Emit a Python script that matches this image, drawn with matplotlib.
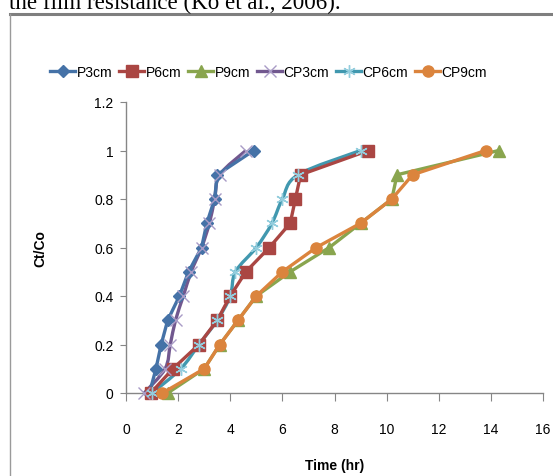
import matplotlib
matplotlib.use('Agg')
import matplotlib.pyplot as plt
import numpy as np
from matplotlib.path import Path
from matplotlib.patches import PathPatch
from matplotlib.lines import Line2D

plt.rcParams['font.family'] = ['Liberation Sans', 'DejaVu Sans']

# Ct/Co levels
levels = [0, 0.1, 0.2, 0.3, 0.4, 0.5, 0.6, 0.7, 0.8, 0.9, 1.0]

p3_t = [0.9, 1.15, 1.35, 1.6, 2.05, 2.4, 2.9, 3.1, 3.4, 3.5, 4.9]
p6_t = [0.95, 1.8, 2.8, 3.5, 4.0, 4.6, 5.5, 6.3, 6.5, 6.7, 9.3]
p9_t = [1.6, 3.0, 3.6, 4.3, 5.0, 6.3, 7.8, 9.0, 10.2, 10.4, 14.3]
cp3_t = [0.7, 1.5, 1.7, 1.9, 2.2, 2.5, 2.9, 3.2, 3.4, 3.6, 4.6]
cp6_t = [1.0, 2.1, 2.8, 3.5, 4.0, 4.2, 5.0, 5.6, 6.0, 6.6, 9.0]
cp9_t = [1.4, 3.0, 3.6, 4.3, 5.0, 6.0, 7.3, 9.0, 10.2, 11.0, 13.8]

series_names = ['P3cm', 'P6cm', 'P9cm', 'CP3cm', 'CP6cm', 'CP9cm']


def smooth_path(x, y):
  # catmull-rom style bezier through the points (like excel "smoothed line")
  pts = np.column_stack([x, y]).astype(float)
  n = len(pts)
  verts = [pts[0]]
  codes = [Path.MOVETO]
  for i in range(n - 1):
    p0 = pts[i - 1] if i > 0 else pts[i]
    p1 = pts[i]
    p2 = pts[i + 1]
    p3 = pts[i + 2] if i + 2 < n else pts[i + 1]
    c1 = p1 + (p2 - p0) / 6.0
    c2 = p2 - (p3 - p1) / 6.0
    verts += [c1, c2, p2]
    codes += [Path.CURVE4] * 3
  return Path(verts, codes)


fig = plt.figure(figsize=(5.53, 4.77), dpi=100)
ax = fig.add_axes([126/553, 1 - 394/477, 417/553, 291/477])

styles = [
  (p3_t, '#4572A7', 'D', 6, '#4572A7', False),
  (p6_t, '#AA4643', 's', 8, '#AA4643', False),
  (p9_t, '#89A54E', '^', 8, '#89A54E', False),
  (cp3_t, '#71588F', 'x', 8, '#A99BC6', True),
  (cp6_t, '#4198AF', (6, 2, 0), 9, '#93CDDD', True),
  (cp9_t, '#DB843D', 'o', 8, '#DB843D', False),
]

handles = []
for (t, col, mk, ms, mcol, smooth), name in zip(styles, series_names):
  if smooth:
    ax.add_patch(PathPatch(smooth_path(t, levels), fill=False, edgecolor=col,
                           lw=2.4, clip_on=False, zorder=2))
    ax.plot(t, levels, ls='none', marker=mk, ms=ms, mec=mcol, mfc=mcol,
            mew=1.0, clip_on=False, zorder=3)
  else:
    ax.plot(t, levels, color=col, lw=2.4, marker=mk, ms=ms, mec=mcol,
            mfc=mcol, clip_on=False, zorder=3)
  handles.append(Line2D([], [], color=col, lw=2.4, marker=mk, ms=ms,
                        mec=mcol, mfc=mcol, mew=1.0))

ax.set_xlim(0, 16)
ax.set_ylim(0, 1.2)
ax.set_xticks(np.arange(0, 17, 2))
ax.set_yticks([0, 0.2, 0.4, 0.6, 0.8, 1, 1.2])
ax.set_yticklabels(['0', '0.2', '0.4', '0.6', '0.8', '1', '1.2'])
for s in ['top', 'right']:
  ax.spines[s].set_visible(False)
for s in ['left', 'bottom']:
  ax.spines[s].set_color('#868686')
  ax.spines[s].set_linewidth(1.0)
ax.tick_params(axis='y', direction='out', length=4, color='#868686',
               labelsize=10, pad=5)
ax.tick_params(axis='x', direction='out', length=6, color='#868686',
               labelsize=10, pad=15)

ax.set_xlabel('Time (hr)', fontsize=10, fontweight='bold', labelpad=16)
ax.set_ylabel('Ct/Co', fontsize=10, fontweight='bold', labelpad=34)

fig.legend(handles, series_names, loc='center', bbox_to_anchor=(0.486, 0.847),
           ncol=6, frameon=False, fontsize=10, handlelength=1.8,
           handletextpad=0.1, columnspacing=0.5)

# frame and cut-off caption of the source page
fig.add_artist(Line2D([10/553, 1], [1 - 14.5/477, 1 - 14.5/477], color='#7f7f7f',
                      lw=2.2, transform=fig.transFigure))
fig.add_artist(Line2D([10/553, 10/553], [0, 1 - 14.5/477], color='#9a9a9a',
                      lw=1.0, transform=fig.transFigure))
fig.text(9/553, 1 - 9/477, 'the film resistance (Ko et al., 2006).',
         fontsize=16.6, family=['Liberation Serif'], va='baseline')

fig.savefig('out.png', dpi=100)
